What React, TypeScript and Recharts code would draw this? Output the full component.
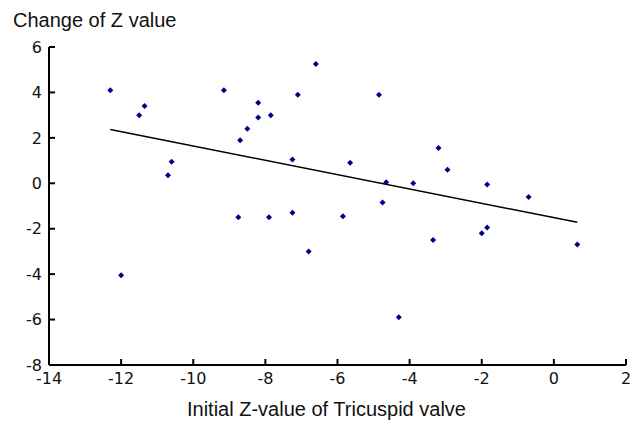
import { ScatterChart, Scatter, XAxis, YAxis } from 'recharts';

// initial Z-value vs. change of Z value, one entry per patient
const initialZ = [
  -12.3, -11.5, -11.35, -10.6, -10.7, -9.15, -8.7, -8.5, -8.2, -8.2, -7.85, -7.25, -7.1, -6.6,
  -4.85, -5.65, -3.2, -2.95, -4.65, -3.9, -1.85, -0.7,
  -8.75, -7.9, -7.25, -6.8, -12.0,
  -5.85, -4.75, -3.35, -2.0, -1.85, -4.3, 0.65,
];
const changeZ = [
  4.1, 3.0, 3.4, 0.95, 0.35, 4.1, 1.9, 2.4, 3.55, 2.9, 3.0, 1.05, 3.9, 5.25,
  3.9, 0.9, 1.55, 0.6, 0.05, 0.0, -0.05, -0.6,
  -1.5, -1.5, -1.3, -3.0, -4.05,
  -1.45, -0.85, -2.5, -2.2, -1.95, -5.9, -2.7,
];

// fitted line endpoints
const fitX = [-12.3, 0.65];
const fitY = [2.37, -1.72];

const xTicks = [-14, -12, -10, -8, -6, -4, -2, 0, 2];
const yTicks = [-8, -6, -4, -2, 0, 2, 4, 6];

const points = initialZ.map((x, i) => ({ x, y: changeZ[i] }));
const fit = fitX.map((x, i) => ({ x, y: fitY[i] }));

const Diamond = (props: any) => {
  const { cx, cy } = props;
  const r = 3;
  return (
    <polygon
      points={`${cx},${cy - r} ${cx + r},${cy} ${cx},${cy + r} ${cx - r},${cy}`}
      fill="#00008b"
    />
  );
};

const TICK_FONT = { fontSize: 16, fill: '#111', fontFamily: '"DejaVu Sans", sans-serif' };
const X_GAP = 8;
const Y_GAP = 7;
const TICK_LEN = 6;

// tick marks point into the plot, so draw them with the label
const XTick = ({ x, y, payload }: any) => (
  <g>
    <line x1={x} x2={x} y1={y - X_GAP} y2={y - X_GAP - TICK_LEN} stroke="#000" strokeWidth={2} />
    <text x={x} y={y} dy="0.71em" textAnchor="middle" style={TICK_FONT}>
      {payload.value}
    </text>
  </g>
);

const YTick = ({ x, y, payload }: any) => (
  <g>
    <line x1={x + Y_GAP} x2={x + Y_GAP + TICK_LEN} y1={y} y2={y} stroke="#000" strokeWidth={2} />
    <text x={x} y={y} dy="0.355em" textAnchor="end" style={TICK_FONT}>
      {payload.value}
    </text>
  </g>
);

export default function App() {
  return (
    <div style={{ position: 'absolute', left: 0, top: 0, width: 633, height: 421, background: '#fff' }}>
      <div
        style={{
          position: 'absolute',
          left: 13,
          top: 9,
          fontFamily: '"Liberation Sans", Arial, sans-serif',
          fontSize: 20,
          color: '#111',
        }}
      >
        Change of Z value
      </div>
      <ScatterChart width={633} height={421} margin={{ top: 47, right: 7, bottom: 0, left: 0 }}>
        <XAxis
          type="number"
          dataKey="x"
          domain={[-14, 2]}
          ticks={xTicks}
          interval={0}
          height={56}
          axisLine={{ stroke: '#000', strokeWidth: 2 }}
          tickLine={false}
          tickSize={0}
          tickMargin={X_GAP}
          tick={<XTick />}
          label={{
            value: 'Initial Z-value of Tricuspid valve',
            position: 'insideBottom',
            offset: 5,
            dx: -11,
            style: { fontSize: 20, fill: '#111', fontFamily: '"Liberation Sans", Arial, sans-serif' },
          }}
        />
        <YAxis
          type="number"
          dataKey="y"
          domain={[-8, 6]}
          ticks={yTicks}
          interval={0}
          width={49}
          axisLine={{ stroke: '#000', strokeWidth: 2 }}
          tickLine={false}
          tickSize={0}
          tickMargin={Y_GAP}
          tick={<YTick />}
        />
        <Scatter data={points} shape={Diamond} isAnimationActive={false} />
        <Scatter
          data={fit}
          line={{ stroke: '#000', strokeWidth: 1.5 }}
          shape={() => <g />}
          isAnimationActive={false}
        />
      </ScatterChart>
    </div>
  );
}
